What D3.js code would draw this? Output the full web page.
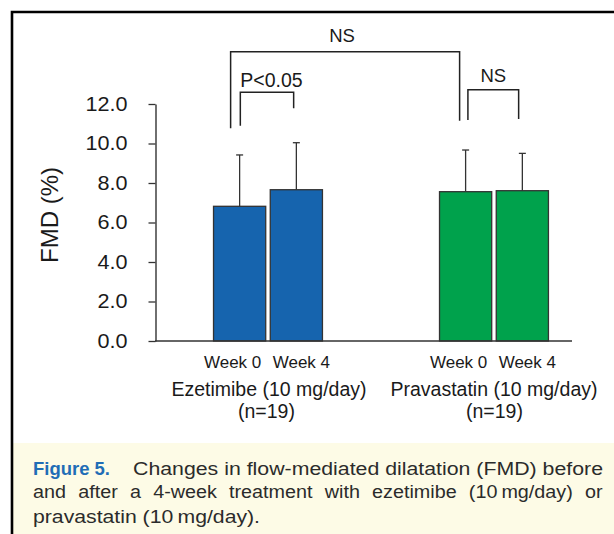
<!DOCTYPE html>
<html>
<head>
<meta charset="utf-8">
<script src="https://cdn.jsdelivr.net/npm/d3@7"></script>
<style>
  html, body { margin: 0; padding: 0; background: #fff; }
  svg { display: block; }
  text { font-family: "Liberation Sans", Arial, Helvetica, sans-serif; fill: #1a1a1a; }
</style>
</head>
<body>
<svg id="chart" width="614" height="534"></svg>
<script>
// FMD before and after 4 weeks of treatment, mean with upper SD whisker
const groups = ["Ezetimibe (10 mg/day)", "Pravastatin (10 mg/day)"];
const groupN = ["(n=19)", "(n=19)"];
const weeks = ["Week 0", "Week 4"];
const ezetimibeMean = [6.82, 7.66];
const ezetimibeSD = [2.60, 2.38];
const pravastatinMean = [7.56, 7.61];
const pravastatinSD = [2.11, 1.89];
const yTicks = [0, 2, 4, 6, 8, 10, 12];
const barColors = ["#1664ae", "#00a24c"];

// significance brackets: bar refs [group, week], level of the top bar and of each leg end
const comparisons = [
  { label: "NS",     a: [0, 0], b: [1, 0], top: 14.65, legA: 10.77, legB: 11.15, dxA: -9, dxB: -6, anchor: "middle" },
  { label: "P<0.05", a: [0, 0], b: [0, 1], top: 12.59, legA: 10.90, legB: 11.78, dxA: 0.7, dxB: -2.7, anchor: "start" },
  { label: "NS",     a: [1, 0], b: [1, 1], top: 12.72, legA: 11.19, legB: 11.24, dxA: 2.3, dxB: -3.7, anchor: "middle" }
];

const captionLabel = "Figure 5.";
const captionLines = [
  "Changes in flow-mediated dilatation (FMD) before",
  "and after a 4-week treatment with ezetimibe (10\u2009mg/day) or",
  "pravastatin (10\u2009mg/day)."
];

const means = [ezetimibeMean, pravastatinMean];
const sds = [ezetimibeSD, pravastatinSD];
const rows = [];
groups.forEach((g, gi) => weeks.forEach((w, wi) => {
  rows.push({ group: g, gi, week: w, wi, mean: means[gi][wi], sd: sds[gi][wi] });
}));

const svg = d3.select("#chart");

// caption band and frame
svg.append("rect").attr("x", 12).attr("y", 443).attr("width", 610).attr("height", 100)
  .attr("fill", "#fdfbe6");
svg.append("path").attr("d", "M12,545 V12 H620")
  .attr("fill", "none").attr("stroke", "#000").attr("stroke-width", 2.6);

const y = d3.scaleLinear().domain([0, 12]).range([341, 104]);
const x0 = d3.scaleBand().domain(groups).range([155, 572])
  .paddingInner(0.518).paddingOuter(0.1816).align(0.713);
const x1 = d3.scaleBand().domain(weeks).range([0, x0.bandwidth()]).paddingInner(0.08);
const cx = (gi, wi) => x0(groups[gi]) + x1(weeks[wi]) + x1.bandwidth() / 2;

// y axis
const yAxis = svg.append("g").attr("transform", "translate(155.5,0)")
  .call(d3.axisLeft(y).tickValues(yTicks).tickFormat(d3.format(".1f"))
    .tickSize(7).tickSizeOuter(0).tickPadding(21));
yAxis.select(".domain").attr("stroke", "#333").attr("stroke-width", 1.4);
yAxis.selectAll(".tick line").attr("stroke", "#333").attr("stroke-width", 1.3);
yAxis.selectAll(".tick text").attr("font-size", 20).attr("fill", "#1a1a1a")
  .attr("font-family", "Liberation Sans, Arial, sans-serif")
  .each(function () {
    const t = d3.select(this);
    t.attr("textLength", this.getComputedTextLength() * 1.08).attr("lengthAdjust", "spacingAndGlyphs");
  });

svg.append("text").attr("transform", "translate(57.5,215) rotate(-90)")
  .attr("text-anchor", "middle").attr("font-size", 24).text("FMD (%)");

// bars
svg.append("g").selectAll("rect").data(rows).join("rect")
  .attr("x", d => x0(d.group) + x1(d.week))
  .attr("y", d => y(d.mean))
  .attr("width", x1.bandwidth())
  .attr("height", d => y(0) - y(d.mean))
  .attr("fill", d => barColors[d.gi])
  .attr("stroke", "#333").attr("stroke-width", 1.3);

// upper SD whiskers
const err = svg.append("g").attr("stroke", "#333").attr("stroke-width", 1.3);
err.selectAll("line.v").data(rows).join("line").attr("class", "v")
  .attr("x1", d => cx(d.gi, d.wi)).attr("x2", d => cx(d.gi, d.wi))
  .attr("y1", d => y(d.mean)).attr("y2", d => y(d.mean + d.sd));
err.selectAll("line.c").data(rows).join("line").attr("class", "c")
  .attr("x1", d => cx(d.gi, d.wi) - 3.5).attr("x2", d => cx(d.gi, d.wi) + 3.5)
  .attr("y1", d => y(d.mean + d.sd)).attr("y2", d => y(d.mean + d.sd));

// x axis line
svg.append("line").attr("x1", x0.range()[0]).attr("x2", x0.range()[1])
  .attr("y1", y(0)).attr("y2", y(0)).attr("stroke", "#333").attr("stroke-width", 1.4);

// week labels
const weekShift = [-7, 5];
svg.append("g").selectAll("text").data(rows).join("text")
  .attr("x", d => cx(d.gi, d.wi) + weekShift[d.wi])
  .attr("y", 367.5).attr("text-anchor", "middle").attr("font-size", 17)
  .text(d => d.week);

// group labels
const gText = svg.append("g").attr("text-anchor", "middle").attr("font-size", 19.5);
gText.selectAll("text.g").data(groups).join("text").attr("class", "g")
  .attr("x", (d, i) => x0(d) + x0.bandwidth() / 2 + (i === 0 ? 1 : 0))
  .attr("y", 396).text(d => d);
gText.selectAll("text.n").data(groupN).join("text").attr("class", "n")
  .attr("x", (d, i) => x0(groups[i]) + x0.bandwidth() / 2 + (i === 0 ? -1.5 : 0.5))
  .attr("y", 418).text(d => d);

// significance brackets
const br = svg.append("g");
comparisons.forEach(c => {
  const xa = cx(c.a[0], c.a[1]) + c.dxA;
  const xb = cx(c.b[0], c.b[1]) + c.dxB;
  br.append("path")
    .attr("d", `M${xa},${y(c.legA)} V${y(c.top)} H${xb} V${y(c.legB)}`)
    .attr("fill", "none").attr("stroke", "#222").attr("stroke-width", 1.5);
  const fs = c.label === "NS" ? 18.5 : 19.5;
  br.append("text")
    .attr("x", c.anchor === "start" ? xa : (xa + xb) / 2 - (c.a[0] !== c.b[0] ? 3 : 0))
    .attr("y", y(c.top) - (c.label === "NS" ? (c.a[0] !== c.b[0] ? 10 : 7.4) : 5.6))
    .attr("text-anchor", c.anchor).attr("font-size", fs).text(c.label);
});

// caption
const cap = svg.append("g");
cap.append("text").attr("x", 33).attr("y", 474.5)
  .attr("font-family", "Liberation Sans Narrow, DejaVu Sans Condensed, Arial Narrow, sans-serif")
  .attr("font-weight", "bold").attr("font-size", 19).attr("fill", "#1f6db6")
  .attr("textLength", 77).attr("lengthAdjust", "spacingAndGlyphs")
  .style("fill", "#1f6db6").text(captionLabel);
const capPos = [[133, 474.5, 470, "spacingAndGlyphs"], [33, 498.5, 570, "spacing"], [33, 522.5, 227, "spacingAndGlyphs"]];
captionLines.forEach((line, i) => {
  const t = cap.append("text").attr("x", capPos[i][0]).attr("y", capPos[i][1])
    .attr("font-size", 17.5).style("fill", "#2b2b2b")
    .text(line);
  // line 2 is justified: stretch glyphs like the others, then widen the word gaps
  if (i === 1) {
    const natural = t.node().getComputedTextLength() * 1.13;
    const gaps = line.split(" ").length - 1;
    t.attr("word-spacing", (capPos[i][2] - natural) / gaps)
      .attr("transform", `translate(${capPos[i][0]},0) scale(1.13,1) translate(${-capPos[i][0]},0)`)
      .attr("word-spacing", (capPos[i][2] - natural) / gaps / 1.13);
  } else {
    t.attr("textLength", capPos[i][2]).attr("lengthAdjust", capPos[i][3]);
  }
});
</script>
</body>
</html>
